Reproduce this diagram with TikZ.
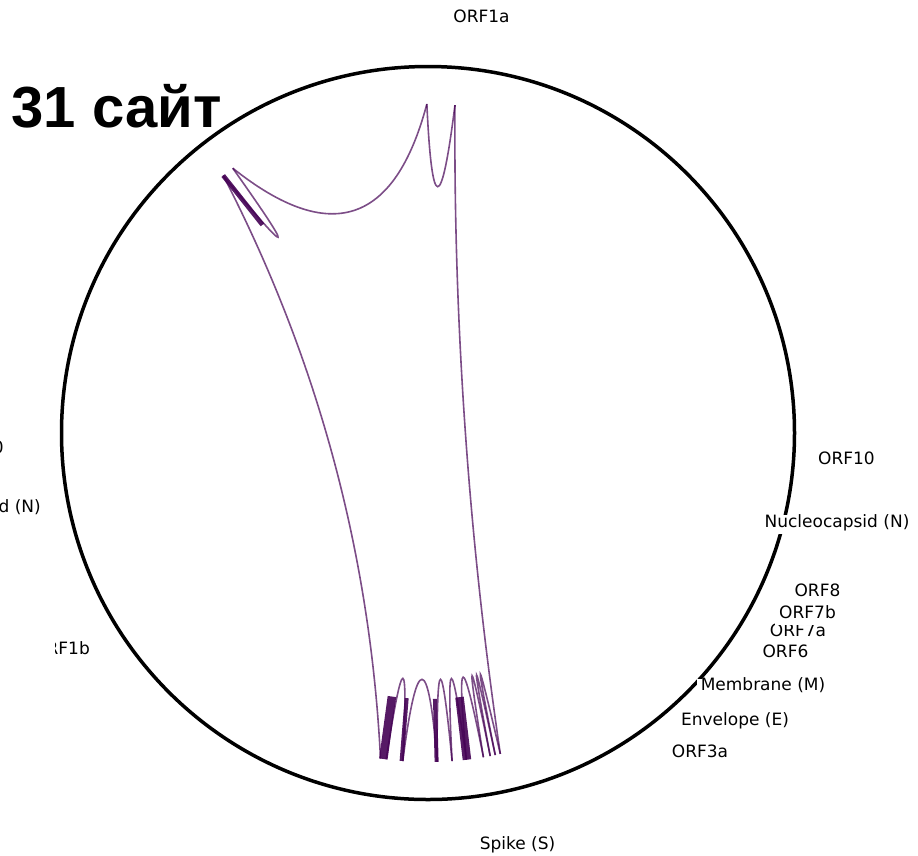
\documentclass[tikz,border=0pt]{standalone}
\usepackage{fontspec}
\newfontfamily\genefont{DejaVu Sans}
\newfontfamily\titlefont{Liberation Sans}
\usetikzlibrary{calc}
\definecolor{linkpurple}{HTML}{440154}
\newcommand{\rIn}{329}
\newcommand{\rBar}{266}
\newcommand{\defineSites}{
    \coordinate (o) at (0,0);
    \coordinate (t0) at (128.5:\rIn);   % top left
    \coordinate (t1) at (126.4:\rIn);
    \coordinate (t2) at (90.2:\rIn);    % top
    \coordinate (t3) at (85.3:\rIn);
    \coordinate (b0) at (261.7:\rIn);   % bottom cluster
    \coordinate (b1) at (262.7:\rIn);
    \coordinate (b2) at (265.6:\rIn);
    \coordinate (b3) at (271.6:\rIn);
    \coordinate (b4) at (274.2:\rIn);
    \coordinate (b5) at (276.7:\rIn);
    \coordinate (b6) at (279.7:\rIn);
    \coordinate (b7) at (280.9:\rIn);
    \coordinate (b8) at (281.8:\rIn);
    \coordinate (b9) at (282.7:\rIn);
}
\newcommand{\drawLink}[2]{
    \coordinate (ctl) at ($(o)!0.5!($(#1)!0.5!(#2)$)$);
    \draw[link edge] (#1) .. controls ($(#1)!0.6667!(ctl)$) and ($(#2)!0.6667!(ctl)$) .. (#2);
}
\begin{document}
\begin{tikzpicture}[
    x=1pt, y=1pt,
    % node styles
    gene label/.style={font=\genefont\fontsize{17}{20}\selectfont, fill=white, inner xsep=4pt, inner ysep=4.5pt, text height=0.76em, text depth=0.24em, anchor=base},
    title label/.style={font=\titlefont\bfseries\fontsize{58}{64}\selectfont, inner sep=0pt, anchor=base west},
    % edge styles
    ring line/.style={line width=3.5pt, black},
    link edge/.style={draw=linkpurple, opacity=0.7, line width=1.6pt},
    bar edge/.style={draw=linkpurple, opacity=0.9}
]
\useasboundingbox (0,0) rectangle (918,-855);

\begin{scope}[shift={(428,-433)}]
    \defineSites

    % 1. Outer ring
    \draw[ring line] (o) circle[radius=366.5pt];

    % 2. Links
    \drawLink{t0}{b0}
    \drawLink{t0}{t1}
    \drawLink{t1}{t2}
    \drawLink{t2}{t3}
    \drawLink{t3}{b9}
    \foreach \a/\b in {b1/b2, b2/b3, b3/b4, b4/b5, b5/b6, b6/b7, b7/b8, b8/b9} {
        \drawLink{\a}{\b}
    }

    % 3. Thick bars
    \foreach \ang/\w [count=\k] in {128.5/4.5, 262.2/8.5, 265.4/4, 271.5/4, 276.8/8.5} {
        \coordinate (bo\k) at (\ang:\rIn);
        \coordinate (bi\k) at (\ang:\rBar);
        \draw[bar edge, line width=\w pt] (bo\k) -- (bi\k);
    }
\end{scope}

% 4. Gene labels
\node[gene label] (orf1a) at (481.5,-22.7) {ORF1a};
\begin{scope}
    \clip (55,-625) rectangle (130,-675);
    \node[gene label, anchor=base east, fill=none] (orf1b) at (94,-654) {ORF1b};
\end{scope}
\node[gene label] (spike) at (517.5,-849) {Spike (S)};
\node[gene label] (orf3a) at (700,-757.7) {ORF3a};
\node[gene label] (env) at (735,-725) {Envelope (E)};
\node[gene label] (mem) at (763,-690.7) {Membrane (M)};
\node[gene label] (orf6) at (785.5,-657.7) {ORF6};
\node[gene label] (orf7a) at (798,-636.7) {ORF7a};
\node[gene label] (orf7b) at (807.5,-618.3) {ORF7b};
\node[gene label] (orf8) at (817.5,-596.7) {ORF8};
\node[gene label] (nuc) at (837,-527) {Nucleocapsid (N)};
\node[gene label] (orf10) at (846.5,-464) {ORF10};

% 5. Cut-off labels at the left edge
\begin{scope}
    \clip (0,0) rectangle (918,-855);
    \node[gene label, anchor=base east, fill=none, inner xsep=0pt] (orf10b) at (4,-453) {ORF10};
    \node[gene label, anchor=base east, fill=none, inner xsep=0pt] (nucb) at (41,-512) {Nucleocapsid (N)};
\end{scope}

% 6. Title
\node[title label] (title) at (11.5,-127) {31 сайт};

\end{tikzpicture}
\end{document}
